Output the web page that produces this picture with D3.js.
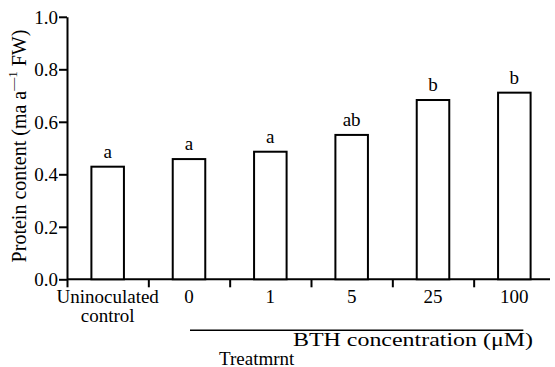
<!DOCTYPE html>
<html>
<head>
<meta charset="utf-8">
<script src="https://cdn.jsdelivr.net/npm/d3@7"></script>
<style>
  body { margin: 0; background: #fff; font-family: 'Liberation Serif', 'Times New Roman', serif; }
  #preload { position: absolute; left: -9999px; top: 0; }
</style>
</head>
<body>
<div id="preload">Uninoculated control 0.0 BTH concentration (μM)</div>
<div id="chart"></div>
<script>
const categories = ['Uninoculated control', '0', '1', '5', '25', '100'];
const protein = [0.429, 0.458, 0.486, 0.55, 0.683, 0.711];
const letters = ['a', 'a', 'a', 'ab', 'b', 'b'];
const yTicks = [0, 0.2, 0.4, 0.6, 0.8, 1.0];

const FONT = "'Liberation Serif', 'Times New Roman', serif";
const width = 555, height = 367;
const margin = { top: 16.8, right: 0, bottom: 87.7, left: 67 };
const innerH = height - margin.top - margin.bottom;

const svg = d3.select('#chart')
  .append('svg')
  .attr('width', width)
  .attr('height', height)
  .style('font-family', FONT);

const g = svg.append('g')
  .attr('transform', `translate(${margin.left},${margin.top})`);

const x = d3.scaleBand()
  .domain(categories)
  .range([0, width - margin.left])
  .paddingInner(0.6)
  .paddingOuter(0.3);

const y = d3.scaleLinear()
  .domain([0, 1])
  .range([innerH, 0]);

function txt(sel, size) {
  return sel.attr('font-family', FONT).style('font-family', FONT).style('font-size', size + 'px').attr('fill', '#000');
}

// y axis
g.append('g')
  .call(d3.axisLeft(y).tickValues(yTicks).tickFormat(d3.format('.1f')).tickSize(8).tickSizeOuter(0))
  .attr('font-family', FONT)
  .call(s => s.select('.domain').attr('stroke-width', 2))
  .call(s => s.selectAll('.tick line').attr('stroke-width', 2))
  .call(s => txt(s.selectAll('.tick text'), 19).attr('x', -9).attr('dy', '0.34em'));

// x axis: ticks at band boundaries
const step = x.step();
const boundaries = d3.range(0, categories.length).map(i => i * step);
const xb = d3.scaleLinear().domain([0, width - margin.left]).range([0, width - margin.left]);

g.append('g')
  .attr('transform', `translate(0,${innerH})`)
  .call(d3.axisBottom(xb).tickValues(boundaries).tickSize(8).tickSizeOuter(0).tickFormat(''))
  .call(s => s.select('.domain').attr('stroke-width', 2).attr('d', `M0,0H${width - margin.left - 5}`))
  .call(s => s.selectAll('.tick line').attr('stroke-width', 2));

// bars
g.selectAll('rect.bar')
  .data(protein)
  .join('rect')
  .attr('class', 'bar')
  .attr('x', (d, i) => x(categories[i]))
  .attr('width', x.bandwidth())
  .attr('y', d => y(d))
  .attr('height', d => innerH - y(d))
  .attr('fill', '#fff')
  .attr('stroke', '#000')
  .attr('stroke-width', 2);

// significance letters
txt(g.selectAll('text.sig')
  .data(protein)
  .join('text')
  .attr('class', 'sig')
  .attr('text-anchor', 'middle')
  .attr('x', (d, i) => x(categories[i]) + x.bandwidth() / 2)
  .attr('y', d => y(d) - 9), 19)
  .text((d, i) => letters[i]);

// category labels
categories.forEach((c, i) => {
  const cx = x(c) + x.bandwidth() / 2;
  const lines = i === 0 ? ['Uninoculated', 'control'] : [c];
  lines.forEach((t, j) => {
    txt(g.append('text'), 19)
      .attr('text-anchor', 'middle')
      .attr('x', cx)
      .attr('y', innerH + 24 + j * 19)
      .text(t);
  });
});

// BTH bracket line
const x0 = x(categories[1]) + x.bandwidth() / 2;
const x1 = x(categories[categories.length - 1]) + x.bandwidth() / 2;
g.append('line')
  .attr('x1', x0 + 1).attr('x2', x1 + 9)
  .attr('y1', innerH + 51).attr('y2', innerH + 51)
  .attr('stroke', '#000')
  .attr('stroke-width', 1.5);

txt(g.append('text'), 19)
  .attr('x', 293 - margin.left)
  .attr('y', innerH + 67)
  .attr('textLength', 240)
  .attr('lengthAdjust', 'spacingAndGlyphs')
  .text('BTH concentration (μM)');

txt(g.append('text'), 19)
  .attr('x', 219 - margin.left)
  .attr('y', height - margin.top - 2)
  .text('Treatmrnt');

// y label
const yl = txt(svg.append('text'), 20)
  .attr('text-anchor', 'middle')
  .attr('transform', `translate(26,146) rotate(-90)`);
yl.append('tspan').text('Protein content (ma a');
yl.append('tspan').attr('dy', -9).style('font-size', '13px').text('\u20141');
yl.append('tspan').attr('dy', 9).text(' FW)');
</script>
</body>
</html>
